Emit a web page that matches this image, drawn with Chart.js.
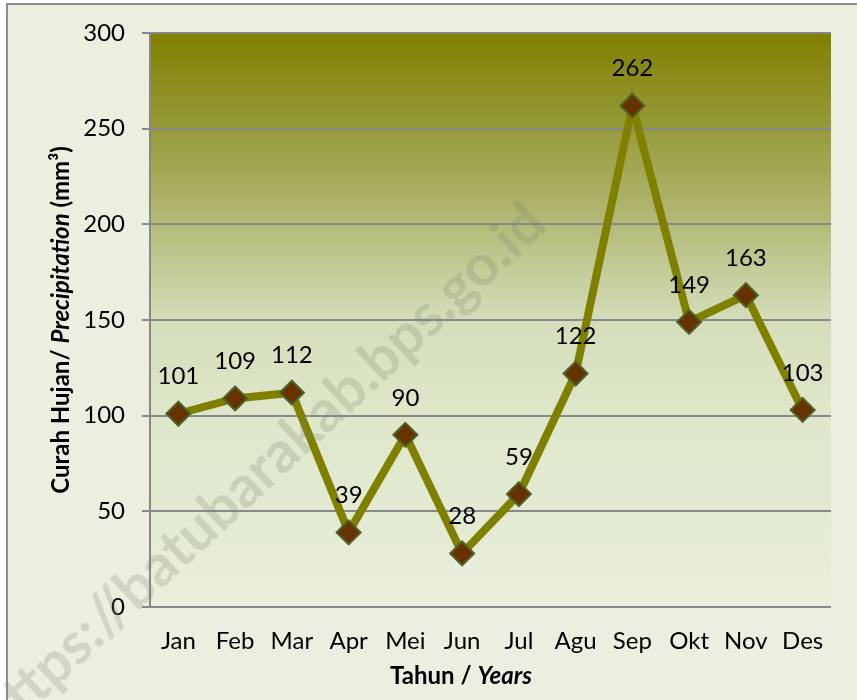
<!DOCTYPE html>
<html>
<head>
<meta charset="utf-8">
<script src="https://cdn.jsdelivr.net/npm/chart.js@4/dist/chart.umd.min.js"></script>
<style>
  html, body { margin:0; padding:0; background:#ffffff; }
  #wrap { position:relative; width:857px; height:700px; overflow:hidden; }
  #frame { position:absolute; left:6px; top:3px; width:900px; height:760px;
           border:2px solid #8e8e8e; background:#ecefdf; box-sizing:border-box; }
  #chart { position:absolute; left:0; top:0; }
</style>
</head>
<body>
<div id="wrap">
  <div id="frame"></div>
  <canvas id="chart" width="857" height="700"></canvas>
</div>
<script>
// Curah hujan bulanan (mm³)
const BULAN = ['Jan','Feb','Mar','Apr','Mei','Jun','Jul','Agu','Sep','Okt','Nov','Des'];
const CURAH_HUJAN = [101, 109, 112, 39, 90, 28, 59, 122, 262, 149, 163, 103];
const Y_TICKS = [0, 50, 100, 150, 200, 250, 300];

const FONT = "Lato, 'Open Sans', sans-serif";
const WATERMARK = 'https://batubarakab.bps.go.id';

// gradasi latar area plot (atas -> bawah)
const GRADASI = [
  [0.000, '#808000'],
  [0.167, '#979a3a'],
  [0.333, '#b4ba78'],
  [0.500, '#d4debb'],
  [0.667, '#dee7ca'],
  [0.833, '#e3ead3'],
  [1.000, '#e9efdc'],
];

const latarPlot = {
  id: 'latarPlot',
  beforeDraw(chart) {
    const {ctx, chartArea:a} = chart;
    const g = ctx.createLinearGradient(0, a.top, 0, a.bottom);
    GRADASI.forEach(([p, c]) => g.addColorStop(p, c));
    ctx.save();
    ctx.fillStyle = g;
    ctx.fillRect(a.left, a.top, a.right - a.left, a.bottom - a.top);
    ctx.restore();
  }
};

const labelNilai = {
  id: 'labelNilai',
  afterDatasetsDraw(chart) {
    const ctx = chart.ctx;
    const meta = chart.getDatasetMeta(0);
    ctx.save();
    ctx.font = `24px ${FONT}`;
    ctx.fillStyle = '#000';
    ctx.textAlign = 'center';
    ctx.textBaseline = 'middle';
    meta.data.forEach((pt, i) => {
      ctx.fillText(String(CURAH_HUJAN[i]), pt.x, pt.y - 37);
    });
    ctx.restore();
  }
};

// tulis teks dengan potongan gaya campuran (tebal / tebal miring)
function tulisCampur(ctx, parts, size) {
  let total = 0;
  parts.forEach(p => {
    ctx.font = `${p.italic ? 'italic ' : ''}bold ${size}px ${FONT}`;
    p.w = ctx.measureText(p.t).width;
    total += p.w;
  });
  let x = -total / 2;
  parts.forEach(p => {
    ctx.font = `${p.italic ? 'italic ' : ''}bold ${size}px ${FONT}`;
    ctx.fillText(p.t, x, 0);
    x += p.w;
  });
}

const judulSumbu = {
  id: 'judulSumbu',
  afterDraw(chart) {
    const ctx = chart.ctx;
    ctx.save();
    ctx.fillStyle = '#000';
    ctx.textAlign = 'left';
    ctx.textBaseline = 'middle';
    // sumbu Y
    ctx.save();
    ctx.translate(61, (chart.chartArea.top + chart.chartArea.bottom) / 2);
    ctx.rotate(-Math.PI / 2);
    tulisCampur(ctx, [{t:'Curah Hujan/ '}, {t:'Precipitation', italic:true}, {t:' (mm³)'}], 24);
    ctx.restore();
    // sumbu X
    ctx.save();
    ctx.translate(461, 676);
    tulisCampur(ctx, [{t:'Tahun / '}, {t:'Years', italic:true}], 24);
    ctx.restore();
    ctx.restore();

    // watermark
    ctx.save();
    ctx.translate(262, 470);
    ctx.rotate(-43 * Math.PI / 180);
    ctx.font = `bold 52px ${FONT}`;
    const w = ctx.measureText(WATERMARK).width;
    const s = 750 / w;
    ctx.scale(s, s);
    ctx.fillStyle = 'rgba(120,135,110,0.24)';
    ctx.textAlign = 'center';
    ctx.textBaseline = 'middle';
    ctx.fillText(WATERMARK, 0, 0);
    ctx.restore();
  }
};

new Chart(document.getElementById('chart'), {
  type: 'line',
  data: {
    labels: BULAN,
    datasets: [{
      label: 'Curah Hujan',
      data: CURAH_HUJAN,
      borderColor: '#808000',
      borderWidth: 8,
      tension: 0,
      pointStyle: 'rectRot',
      pointRadius: 12,
      pointHoverRadius: 12,
      pointBackgroundColor: '#663300',
      pointBorderColor: '#4f6228',
      pointBorderWidth: 2,
      clip: false,
    }]
  },
  options: {
    responsive: false,
    animation: false,
    devicePixelRatio: 1,
    layout: { padding: { top: 33, right: 26, left: 0, bottom: 0 } },
    plugins: {
      legend: { display: false },
      tooltip: { enabled: false },
    },
    scales: {
      x: {
        offset: true,
        grid: { display: false },
        border: { display: false },
        ticks: { font: { family: FONT, size: 24 }, color: '#000', padding: 12, maxRotation: 0 },
        afterFit(scale) { scale.height = 93; }
      },
      y: {
        min: 0,
        max: 300,
        afterBuildTicks(scale) { scale.ticks = Y_TICKS.map(v => ({ value: v })); },
        grid: { color: '#888888', lineWidth: 2, tickLength: 8, tickColor: '#888888' },
        border: { color: '#888888', width: 2 },
        ticks: { font: { family: FONT, size: 24 }, color: '#000', padding: 17 },
        afterFit(scale) { scale.width = 150; }
      }
    }
  },
  plugins: [latarPlot, labelNilai, judulSumbu]
});
</script>
</body>
</html>
